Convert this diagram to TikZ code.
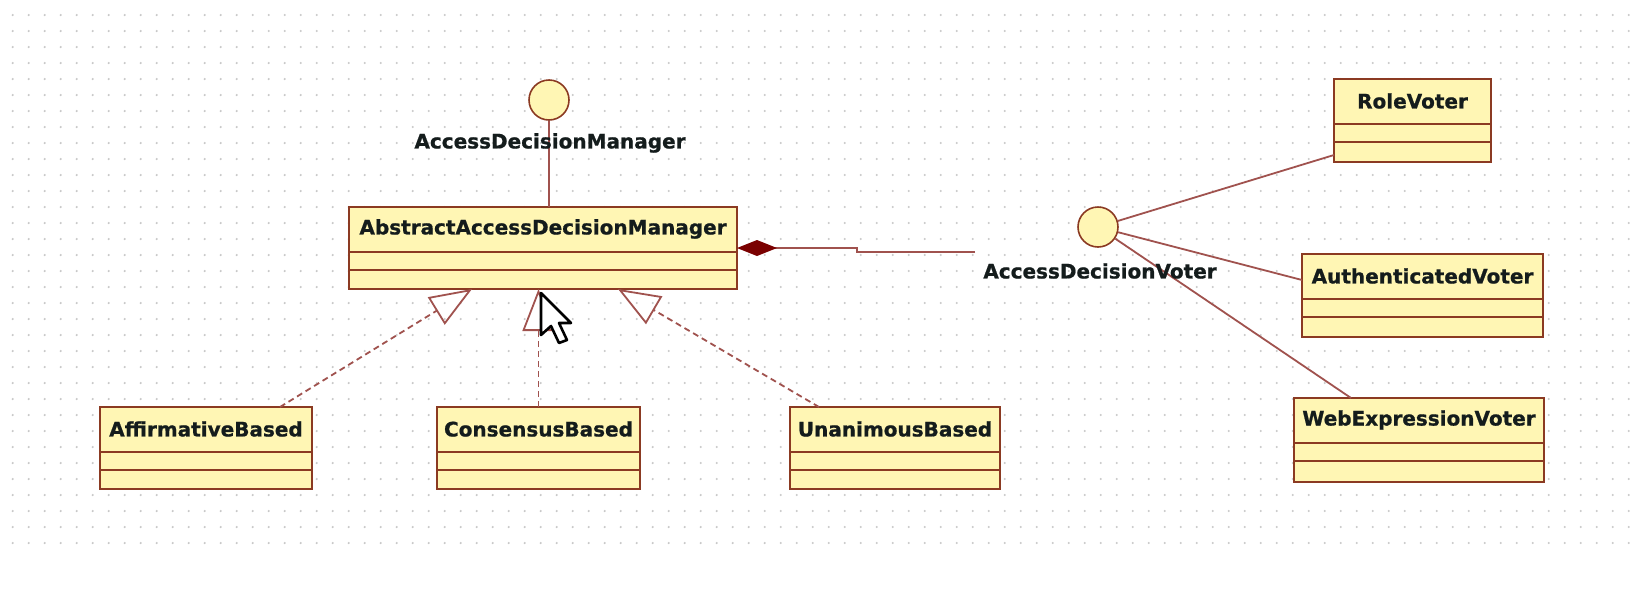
\documentclass[tikz,border=0pt]{standalone}
\usepackage{fontspec}
\setmainfont{DejaVu Sans}[BoldFeatures={FakeBold=0.8}]
\usetikzlibrary{arrows.meta,calc}
\definecolor{boxfill}{HTML}{FFF6B4}
\definecolor{boxdraw}{HTML}{8B3A22}
\definecolor{conn}{HTML}{A0524E}
\definecolor{diam}{HTML}{7A0000}
\definecolor{txt}{HTML}{141C1C}
\definecolor{gridot}{HTML}{C8C8C8}
\tikzset{
 cls/.style={draw=boxdraw, fill=boxfill, line width=2pt, inner sep=0pt, outer sep=0pt, rectangle},
 lbl/.style={font=\fontsize{20}{24}\selectfont\bfseries, text=txt, inner sep=0pt},
 divider/.style={draw=boxdraw, line width=2pt},
 iface/.style={circle, draw=boxdraw, fill=boxfill, line width=1.6pt, minimum size=40pt, inner sep=0pt},
 assoc/.style={draw=conn, line width=1.8pt},
 gen/.style={draw=conn, line width=1.8pt, dash pattern=on 6pt off 4pt, -{Triangle[open, length=42pt, width=32pt]}},
 comp/.style={draw=conn, line width=1.8pt, -{Diamond[length=40pt, width=16pt, fill=diam, color=diam]}},
 pointer/.style={draw=black, fill=white, line width=2.6pt, line join=round},
}
\newcommand\umlclass[6]{%
 \node[cls, anchor=north west, minimum width={(#4-#2)*1pt}, minimum height={(#5-#3)*1pt}] (#1) at (#2,#3) {};
 \draw[divider] ([yshift=-45pt]#1.north west) -- ([yshift=-45pt]#1.north east);
 \draw[divider] ([yshift=-63pt]#1.north west) -- ([yshift=-63pt]#1.north east);
 \node[lbl] (#1-name) at ([yshift=-22pt]#1.north) {#6};
}
\begin{document}
\begin{tikzpicture}[x=1pt,y=-1pt]
\useasboundingbox (0,0) rectangle (1638,603);
\fill[white] (0,0) rectangle (1638,603);
\foreach \i in {0,...,101}{\foreach \j in {0,...,33}{\fill[gridot] (12.7+16*\i,15+16*\j) circle (1.2pt);}}
% classes
\umlclass{abs}{349}{207}{737}{289}{AbstractAccessDecisionManager}
\umlclass{aff}{100}{407}{312}{489}{AffirmativeBased}
\umlclass{con}{437}{407}{640}{489}{ConsensusBased}
\umlclass{una}{790}{407}{1000}{489}{UnanimousBased}
\umlclass{role}{1334}{79}{1491}{162}{RoleVoter}
\umlclass{auth}{1302}{254}{1543}{337}{AuthenticatedVoter}
\umlclass{web}{1294}{398}{1544}{482}{WebExpressionVoter}
% interfaces
\node[iface] (adm) at (549,100) {};
\node[iface] (adv) at (1098,227) {};
% connectors
\draw[assoc] (adm) -- (adm |- abs.north);
\draw[assoc] (adv) -- ([yshift=7pt]role.south west);
\draw[assoc] (adv) -- ([yshift=-26pt]auth.north west);
\draw[assoc] (adv) -- ([xshift=57pt]web.north west);
\coordinate (cmpend) at (975,252);
\draw[comp] (cmpend) -- (857,252) -- (857,248) -- (abs.east);
\draw[gen] ([xshift=180pt]aff.north west) -- ([xshift=123pt]abs.south west);
\draw[gen] (con.north) -- (con.north |- abs.south);
\draw[gen] ([xshift=29pt]una.north west) -- ([xshift=269pt]abs.south west);
% labels
\node[lbl] (admlbl) at (550,143) {AccessDecisionManager};
\node[lbl] (advlbl) at (1100,271) {AccessDecisionVoter};
% mouse pointer
\draw[pointer] (541,293) -- ++(0,42) -- ++(10,-9) -- ++(8,17) -- ++(8,-3) -- ++(-8,-17) -- ++(12,0) -- cycle;
\end{tikzpicture}
\end{document}
